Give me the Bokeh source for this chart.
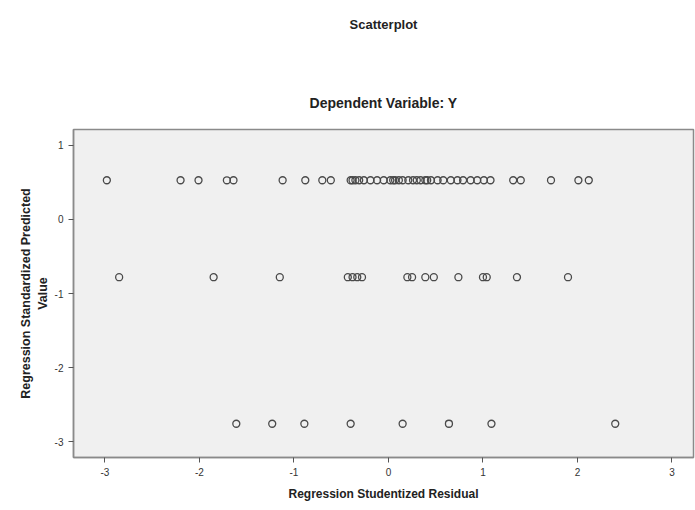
from bokeh.plotting import figure
from bokeh.models import Range1d, FixedTicker, Title, ColumnDataSource
from bokeh.embed import file_html
from bokeh.resources import INLINE

# Predicted value levels (standardized) and studentized residuals at each level
pred_levels = [0.53, -0.78, -2.76]
resid_top = [-2.98, -2.20, -2.01, -1.71, -1.64, -1.12, -0.88, -0.70, -0.61,
             -0.40, -0.38, -0.35, -0.31, -0.26, -0.19, -0.12, -0.05, 0.02,
             0.05, 0.07, 0.11, 0.15, 0.21, 0.26, 0.30, 0.34, 0.39, 0.41,
             0.45, 0.52, 0.58, 0.66, 0.73, 0.79, 0.87, 0.94, 1.01, 1.08,
             1.32, 1.40, 1.72, 2.01, 2.12]
resid_mid = [-2.85, -1.85, -1.15, -0.43, -0.38, -0.33, -0.28, 0.20, 0.25,
             0.39, 0.48, 0.74, 1.00, 1.04, 1.36, 1.90]
resid_low = [-1.61, -1.23, -0.89, -0.40, 0.15, 0.64, 1.09, 2.40]

x_ticks = [-3, -2, -1, 0, 1, 2, 3]
y_ticks = [-3, -2, -1, 0, 1]

xs, ys = [], []
for lvl, grp in zip(pred_levels, [resid_top, resid_mid, resid_low]):
    xs += grp
    ys += [lvl] * len(grp)
src = ColumnDataSource(dict(x=xs, y=ys))

FONT = "Liberation Sans"

p = figure(width=695, height=505, output_backend="svg", toolbar_location=None,
           x_range=Range1d(-3.333, 3.228), y_range=Range1d(-3.216, 1.216),
           min_border_left=73, min_border_right=2, min_border_top=129,
           min_border_bottom=48)
p.background_fill_color = "#f0f0f0"
p.border_fill_color = "white"
p.outline_line_color = "#8a8a8a"
p.outline_line_width = 1.5
p.grid.visible = False

p.scatter("x", "y", source=src, size=7, marker="circle", fill_color=None,
          line_color="#4a4a4a", line_width=1.3)

for ax in (p.xaxis[0], p.yaxis[0]):
    ax.minor_tick_line_color = None
    ax.major_tick_in = 0
    ax.major_tick_out = 5
    ax.axis_line_color = "#8a8a8a"
    ax.axis_line_width = 1.5
    ax.major_tick_line_color = "#555555"
    ax.major_label_text_font = FONT
    ax.major_label_text_font_size = "10px"
    ax.major_label_text_color = "#333333"
    ax.axis_label_text_font = FONT
    ax.axis_label_text_font_style = "bold"
    ax.axis_label_text_color = "#222222"

p.xaxis.ticker = FixedTicker(ticks=x_ticks)
p.yaxis.ticker = FixedTicker(ticks=y_ticks)
p.xaxis.major_label_overrides = {t: str(t) for t in x_ticks}
p.yaxis.major_label_overrides = {t: str(t) for t in y_ticks}
p.xaxis.axis_label = "Regression Studentized Residual"
p.xaxis.axis_label_text_font_size = "12px"
p.xaxis.axis_label_standoff = 8
p.yaxis.axis_label = "Regression Standardized Predicted\nValue"
p.yaxis.axis_label_text_font_size = "12.5px"
p.yaxis.axis_label_standoff = 2

p.add_layout(Title(text="Dependent Variable: Y", align="center",
                   text_font=FONT, text_font_style="bold",
                   text_font_size="14px", text_color="#222222",
                   standoff=38), "above")
p.add_layout(Title(text="\u00a0", align="center", text_font=FONT,
                   text_font_size="2px", standoff=24), "above")
p.add_layout(Title(text="Scatterplot", align="center",
                   text_font=FONT, text_font_style="bold",
                   text_font_size="13px", text_color="#222222",
                   standoff=28), "above")

open("out.html", "w").write(file_html(p, INLINE))
